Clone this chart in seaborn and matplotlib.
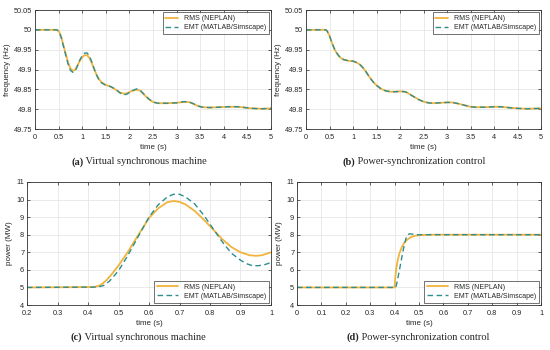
import numpy as np
import pandas as pd
import seaborn as sns
import matplotlib.pyplot as plt

# panel (a): virtual synchronous machine, frequency (Hz)
t_a = [0, 0.45, 0.48, 0.52, 0.56, 0.6, 0.65, 0.7, 0.75, 0.8, 0.85, 0.9, 0.95, 1.0, 1.05,
       1.1, 1.15, 1.2, 1.25, 1.3, 1.35, 1.4, 1.5, 1.6, 1.7, 1.8, 1.88, 1.95, 2.05, 2.15,
       2.22, 2.3, 2.4, 2.5, 2.6, 2.8, 3.0, 3.15, 3.25, 3.35, 3.45, 3.55, 3.7, 3.9, 4.1,
       4.3, 4.45, 4.6, 4.8, 5.0]
rms_a = [50.0, 50.0, 49.999, 49.993, 49.980, 49.962, 49.940, 49.918, 49.903, 49.897,
         49.899, 49.910, 49.922, 49.931, 49.936, 49.936, 49.930, 49.917, 49.902, 49.888,
         49.877, 49.869, 49.861, 49.857, 49.850, 49.842, 49.839, 49.840, 49.846, 49.849,
         49.847, 49.838, 49.826, 49.818, 49.815, 49.815, 49.816, 49.818, 49.818, 49.814,
         49.808, 49.805, 49.804, 49.805, 49.806, 49.806, 49.804, 49.802, 49.801, 49.802]
emt_a = [50.0, 50.0, 49.999, 49.993, 49.979, 49.960, 49.937, 49.914, 49.898, 49.893,
         49.896, 49.909, 49.924, 49.935, 49.941, 49.942, 49.935, 49.920, 49.903, 49.887,
         49.875, 49.867, 49.860, 49.857, 49.851, 49.841, 49.836, 49.838, 49.846, 49.851,
         49.849, 49.839, 49.827, 49.818, 49.815, 49.815, 49.816, 49.819, 49.819, 49.814,
         49.808, 49.805, 49.804, 49.805, 49.806, 49.806, 49.804, 49.802, 49.801, 49.802]

# panel (b): power-synchronization control, frequency (Hz)
t_b = [0, 0.42, 0.45, 0.5, 0.55, 0.6, 0.65, 0.7, 0.75, 0.8, 0.9, 1.0, 1.05, 1.1, 1.15,
       1.2, 1.25, 1.3, 1.35, 1.4, 1.45, 1.5, 1.6, 1.7, 1.8, 1.9, 2.0, 2.1, 2.15, 2.2, 2.3,
       2.4, 2.5, 2.6, 2.7, 2.85, 3.0, 3.1, 3.2, 3.3, 3.4, 3.5, 3.6, 3.8, 4.0, 4.15, 4.3,
       4.5, 4.7, 5.0]
rms_b = [50.0, 50.0, 49.997, 49.985, 49.968, 49.953, 49.942, 49.934, 49.928, 49.925,
         49.922, 49.921, 49.919, 49.916, 49.912, 49.906, 49.899, 49.890, 49.881, 49.873,
         49.866, 49.860, 49.851, 49.846, 49.844, 49.844, 49.845, 49.844, 49.842, 49.838,
         49.831, 49.824, 49.819, 49.816, 49.815, 49.816, 49.817, 49.817, 49.815, 49.812,
         49.809, 49.806, 49.805, 49.805, 49.806, 49.806, 49.804, 49.802, 49.801, 49.802]
emt_b = rms_b

# panel (c): virtual synchronous machine, power (MW)
t_c = [0.2, 0.42, 0.44, 0.46, 0.48, 0.5, 0.53, 0.56, 0.6, 0.63, 0.66, 0.68, 0.7, 0.72,
       0.75, 0.78, 0.81, 0.84, 0.87, 0.9, 0.93, 0.95, 0.97, 1.0]
rms_c = [5.0, 5.02, 5.12, 5.4, 5.8, 6.25, 7.0, 7.85, 8.95, 9.5, 9.85, 9.92, 9.87, 9.72,
         9.35, 8.85, 8.3, 7.75, 7.3, 7.0, 6.83, 6.8, 6.83, 7.0]
t_c_emt = [0.2, 0.43, 0.45, 0.47, 0.5, 0.53, 0.56, 0.6, 0.63, 0.66, 0.68, 0.7, 0.72, 0.75,
           0.78, 0.81, 0.84, 0.87, 0.9, 0.92, 0.94, 0.96, 0.98, 1.0]
emt_c = [5.0, 5.02, 5.1, 5.35, 5.95, 6.8, 7.75, 9.0, 9.7, 10.15, 10.3, 10.3, 10.15, 9.75,
         9.1, 8.35, 7.6, 6.95, 6.55, 6.35, 6.23, 6.24, 6.3, 6.42]

# panel (d): power-synchronization control, power (MW)
t_d = [0, 0.4, 0.403, 0.407, 0.412, 0.42, 0.43, 0.44, 0.45, 0.46, 0.47, 0.48, 0.5, 0.53,
       0.56, 1.0]
rms_d = [5.0, 5.0, 5.6, 6.1, 6.5, 6.95, 7.3, 7.55, 7.7, 7.8, 7.88, 7.93, 7.97, 7.99,
         8.0, 8.0]
t_d_emt = [0, 0.405, 0.41, 0.42, 0.43, 0.44, 0.45, 0.46, 0.47, 0.49, 1.0]
emt_d = [5.0, 5.0, 5.3, 6.0, 6.75, 7.45, 7.95, 8.05, 8.04, 8.0, 8.0]

sns.set_style('whitegrid')
plt.rcParams['font.family'] = ['Liberation Sans', 'DejaVu Sans']

orange = '#F2B33D'
teal = '#2E8E8E'
tick_col = '#262626'
serif = ['Liberation Serif', 'DejaVu Serif']

fig = plt.figure(figsize=(5.5, 3.5), dpi=100)

W, H = 550.0, 350.0
def box(l, t, r, b):
    return [l / W, 1 - b / H, (r - l) / W, (b - t) / H]

panels = [
    dict(pos=box(35, 10, 271, 129), t1=t_a, y1=rms_a, t2=t_a, y2=emt_a,
         xlim=(0, 5), xt=np.arange(0, 5.01, 0.5), ylim=(49.75, 50.05),
         yt=np.arange(49.75, 50.051, 0.05), ylab='frequency (Hz)', loc='upper right',
         hl=1.8, cap=('(a)', ' Virtual synchronous machine'), cx=139, cy=162),
    dict(pos=box(306, 10, 541, 129), t1=t_b, y1=rms_b, t2=t_b, y2=emt_b,
         xlim=(0, 5), xt=np.arange(0, 5.01, 0.5), ylim=(49.75, 50.05),
         yt=np.arange(49.75, 50.051, 0.05), ylab='frequency (Hz)', loc='upper right',
         hl=1.8, cap=('(b)', ' Power-synchronization control'), cx=414, cy=162),
    dict(pos=box(27, 182, 271, 305), t1=t_c, y1=rms_c, t2=t_c_emt, y2=emt_c,
         xlim=(0.2, 1), xt=np.arange(0.2, 1.001, 0.1), ylim=(4, 11),
         yt=np.arange(4, 11.1, 1), ylab='power (MW)', loc='lower right',
         hl=3.0, cap=('(c)', ' Virtual synchronous machine'), cx=138, cy=337),
    dict(pos=box(297, 182, 541, 305), t1=t_d, y1=rms_d, t2=t_d_emt, y2=emt_d,
         xlim=(0, 1), xt=np.arange(0, 1.001, 0.1), ylim=(4, 11),
         yt=np.arange(4, 11.1, 1), ylab='power (MW)', loc='lower right',
         hl=3.0, cap=('(d)', ' Power-synchronization control'), cx=418, cy=337),
]

def fmt_num(v):
    return ('%.2f' % v).rstrip('0').rstrip('.')

for p in panels:
    ax = fig.add_axes(p['pos'])
    sns.lineplot(x=p['t1'], y=p['y1'], ax=ax, color=orange, linewidth=1.3,
                 label='RMS (NEPLAN)')
    sns.lineplot(x=p['t2'], y=p['y2'], ax=ax, color=teal, linewidth=1.0,
                 label='EMT (MATLAB/Simscape)')
    ax.lines[-1].set_dashes((4, 2.5))
    ax.set_xlim(*p['xlim'])
    ax.set_ylim(*p['ylim'])
    ax.set_xticks(p['xt'])
    ax.set_yticks(p['yt'])
    ax.set_xticklabels([fmt_num(v) for v in p['xt']])
    ax.set_yticklabels([fmt_num(v) for v in p['yt']])
    ax.grid(True, color='#E6E6E6', linewidth=0.6)
    for s in ax.spines.values():
        s.set_color('#333333')
        s.set_linewidth(0.6)
        s.set_visible(True)
    ax.tick_params(labelsize=5.3, colors=tick_col, length=2, width=0.5,
                   direction='in', top=True, right=True, bottom=True, left=True)
    ax.tick_params(axis='x', pad=3.5)
    ax.tick_params(axis='y', pad=2)
    ax.set_xlabel('time (s)', fontsize=5.8, color=tick_col, labelpad=2)
    ax.set_ylabel(p['ylab'], fontsize=5.8, color=tick_col, labelpad=2)
    leg = ax.legend(loc=p['loc'], fontsize=5, frameon=True, fancybox=False,
                    handlelength=p['hl'], borderpad=0.4, labelspacing=0.3,
                    borderaxespad=0.35, handletextpad=0.8)
    leg.get_frame().set_edgecolor('#333333')
    leg.get_frame().set_linewidth(0.6)
    leg.get_lines()[1].set_dashes((4, 2.5))
    lab, rest = p['cap']
    t1 = fig.text(0, 0, lab, fontsize=7.5, weight='bold', family=serif, va='center')
    t2 = fig.text(0, 0, rest, fontsize=7.5, family=serif, va='center')
    p['caps'] = (t1, t2)

# centre bold label + caption text as one line
fig.canvas.draw()
r = fig.canvas.get_renderer()
for p in panels:
    t1, t2 = p['caps']
    w1 = t1.get_window_extent(r).width
    w2 = t2.get_window_extent(r).width
    x0 = p['cx'] - (w1 + w2) / 2
    y = 1 - p['cy'] / H
    t1.set_position((x0 / W, y))
    t2.set_position(((x0 + w1) / W, y))

fig.savefig('out.png', dpi=100)
